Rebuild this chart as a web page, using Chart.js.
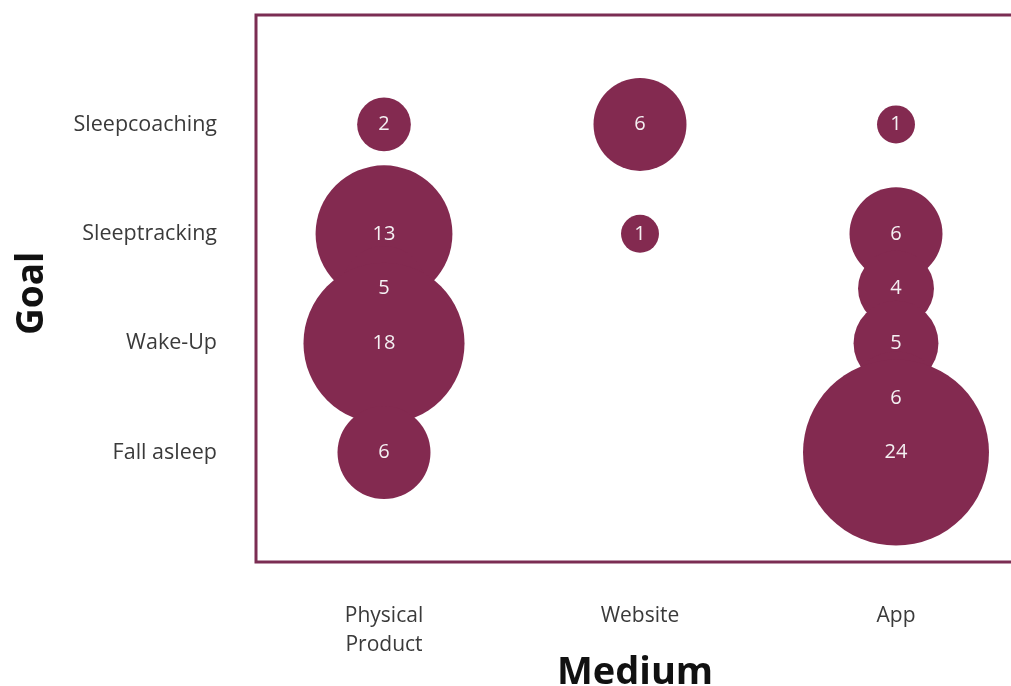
<!DOCTYPE html>
<html>
<head>
<meta charset="utf-8">
<title>Goal by Medium</title>
<script src="https://cdn.jsdelivr.net/npm/chart.js@4/dist/chart.umd.min.js"></script>
<style>
  html, body { margin: 0; padding: 0; background: #fff; overflow: hidden; }
  #wrap { width: 1011px; height: 686px; overflow: hidden; }
</style>
</head>
<body>
<div id="wrap"><canvas id="chart" width="1040" height="686"></canvas></div>
<script>
// categories
const mediumLabels = [["Physical", "Product"], "Website", "App"];
const goalLabels = ["Fall asleep", "Wake-Up", "Sleeptracking", "Sleepcoaching"]; // y = 1..4

// bubbles: medium index, goal position, count
const bubbleMedium = [0, 0, 0, 0, 0, 1, 1, 2, 2, 2, 2, 2, 2];
const bubbleGoal = [4, 3, 2.5, 2, 1, 4, 3, 4, 3, 2.5, 2, 1.5, 1];
const bubbleCount = [2, 13, 5, 18, 6, 6, 1, 1, 6, 4, 5, 6, 24];

const BUBBLE_COLOR = "#832a50";
const BORDER_COLOR = "#7b2d53";
const TEXT_COLOR = "#3a3a3a";
const RADIUS_K = 18.98; // px per sqrt(count), area-proportional bubbles

const points = bubbleCount.map((count, i) => ({
  x: bubbleMedium[i],
  y: bubbleGoal[i],
  r: RADIUS_K * Math.sqrt(count),
  count,
}));

const frameBox = {
  id: "frameBox",
  afterDatasetsDraw(chart) {
    const { ctx, chartArea: a } = chart;
    ctx.save();
    ctx.strokeStyle = BORDER_COLOR;
    ctx.lineWidth = 3;
    ctx.strokeRect(a.left, a.top, a.right - a.left, a.bottom - a.top);
    ctx.restore();
  },
};

const bubbleLabels = {
  id: "bubbleLabels",
  afterDatasetsDraw(chart) {
    const { ctx } = chart;
    const meta = chart.getDatasetMeta(0);
    ctx.save();
    ctx.fillStyle = "#f4f0f2";
    ctx.font = "20px 'Open Sans'";
    ctx.textAlign = "center";
    ctx.textBaseline = "middle";
    meta.data.forEach((el, i) => {
      ctx.fillText(String(bubbleCount[i]), el.x, el.y);
    });
    ctx.restore();
  },
};

new Chart(document.getElementById("chart"), {
  type: "bubble",
  data: {
    datasets: [
      {
        data: points,
        backgroundColor: BUBBLE_COLOR,
        borderColor: BUBBLE_COLOR,
        borderWidth: 0,
        hoverRadius: 0,
        clip: false,
      },
    ],
  },
  options: {
    responsive: false,
    animation: false,
    events: [],
    layout: { autoPadding: false, padding: { top: 15, right: 16, left: 0, bottom: 0 } },
    plugins: { legend: { display: false }, tooltip: { enabled: false } },
    scales: {
      x: {
        type: "linear",
        min: -0.5,
        max: 2.5,
        grid: { display: false, drawTicks: false },
        border: { display: false },
        afterBuildTicks: (scale) => {
          scale.ticks = mediumLabels.map((_, i) => ({ value: i }));
        },
        afterFit: (scale) => {
          scale.height = 124;
          scale.paddingLeft = 0;
          scale.paddingRight = 0;
        },
        ticks: {
          padding: 40,
          maxRotation: 0,
          autoSkip: false,
          color: TEXT_COLOR,
          font: { family: "'Open Sans'", size: 21, lineHeight: 1.38 },
          callback: (value) => mediumLabels[value],
        },
        title: {
          display: true,
          text: "Medium ",
          color: "#111",
          font: { family: "'Open Sans'", size: 38, weight: "bold", lineHeight: 1 },
          padding: { top: 0, bottom: -6 },
        },
      },
      y: {
        type: "linear",
        min: 0,
        max: 5,
        grid: { display: false, drawTicks: false },
        border: { display: false },
        afterBuildTicks: (scale) => {
          scale.ticks = goalLabels.map((_, i) => ({ value: i + 1 }));
        },
        afterFit: (scale) => {
          scale.width = 256;
          scale.paddingTop = 0;
          scale.paddingBottom = 0;
        },
        ticks: {
          padding: 39,
          autoSkip: false,
          color: TEXT_COLOR,
          font: { family: "'Open Sans'", size: 21.5 },
          callback: (value) => goalLabels[value - 1],
        },
        title: {
          display: true,
          text: "Goal ",
          color: "#111",
          font: { family: "'Open Sans'", size: 37, weight: "bold", lineHeight: 1.2 },
          padding: { top: 10, bottom: 0 },
        },
      },
    },
  },
  plugins: [frameBox, bubbleLabels],
});
</script>
</body>
</html>
